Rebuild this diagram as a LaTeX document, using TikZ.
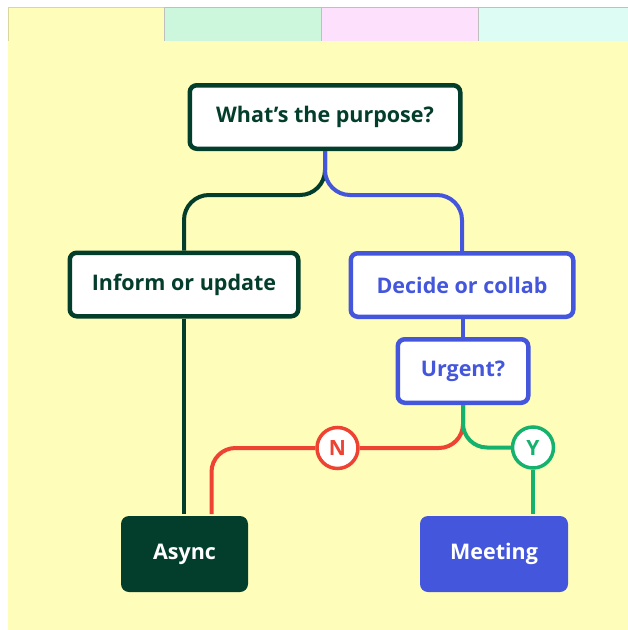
\documentclass[tikz,border=0pt]{standalone}
\usepackage{fontspec}
\setmainfont{Open Sans}

\definecolor{pine}{HTML}{033D2B}
\definecolor{royal}{HTML}{4456DB}
\definecolor{tomato}{HTML}{EE4233}
\definecolor{mint}{HTML}{14B26C}
\definecolor{paper}{HTML}{FFFDBA}

\begin{document}
\begin{tikzpicture}[x=1pt,y=-1pt,line width=4pt,
  box/.style={draw,fill=white,rounded corners=7pt,line width=4.5pt,inner sep=0pt,
    font=\fontsize{21.5}{25}\selectfont\bfseries,minimum height=63.5pt},
  endbox/.style={fill,rounded corners=8pt,inner sep=0pt,text=white,
    font=\fontsize{21.5}{25}\selectfont\bfseries,minimum height=76pt},
  answer/.style={circle,draw,fill=white,line width=3.5pt,inner sep=0pt,minimum size=41pt,
    font=\fontsize{21}{24}\selectfont\bfseries},
  tab/.style={line width=.8pt}]
\path[use as bounding box] (0,0) rectangle (628,630);
% paper and tabs
\fill[paper] (8,41) rectangle (628,630);
\filldraw[tab,fill=paper,draw=paper!85!black] (8,7) rectangle (164,41);
\filldraw[tab,fill={rgb,255:red,204;green,247;blue,220},draw=black!25] (164,7) rectangle (321,41);
\filldraw[tab,fill={rgb,255:red,253;green,224;blue,251},draw=black!25] (321,7) rectangle (478,41);
\filldraw[tab,fill={rgb,255:red,221;green,252;blue,244},draw=black!25] (478,7) rectangle (628,41);
\fill[paper] (8,40.6) rectangle (628,43);

% nodes
\node[box,draw=pine,text=pine,minimum width=270.5pt] (purpose) at (325,117) {What’s the purpose?};
\node[box,draw=pine,text=pine,minimum width=228.5pt] (inform) at (184,284.5) {Inform or update};
\node[box,draw=royal,text=royal,minimum width=222.5pt] (decide) at (462,285) {Decide or collab};
\node[box,draw=royal,text=royal,minimum width=130.5pt] (urgent) at (463,371) {Urgent?};
\node[endbox,fill=pine,minimum width=127pt] (async) at (184.5,554) {Async};
\node[endbox,fill=royal,minimum width=148pt] (meeting) at (494,554) {Meeting};
\node[answer,draw=tomato,text=tomato] (no) at (337.5,448) {N};
\node[answer,draw=mint,text=mint] (yes) at (533,447.5) {Y};

% connectors
\draw[pine,rounded corners=25pt] (purpose.south) -- ++(0,44) -| (inform.north);
\draw[royal,rounded corners=25pt] (purpose.south) -- ++(0,44) -| (decide.north);
\draw[pine] (inform.south) -- (inform.south |- async.north);
\draw[royal] (urgent.north |- decide.south) -- (urgent.north);
\draw[tomato,rounded corners=24pt] (urgent.south) |- (no.east);
\draw[tomato,rounded corners=24pt] (no.west) -| ([xshift=27pt]async.north);
\draw[mint,rounded corners=24pt] (urgent.south) |- (yes.west);
\draw[mint] (yes.south) -- (yes.south |- meeting.north);
\end{tikzpicture}
\end{document}
